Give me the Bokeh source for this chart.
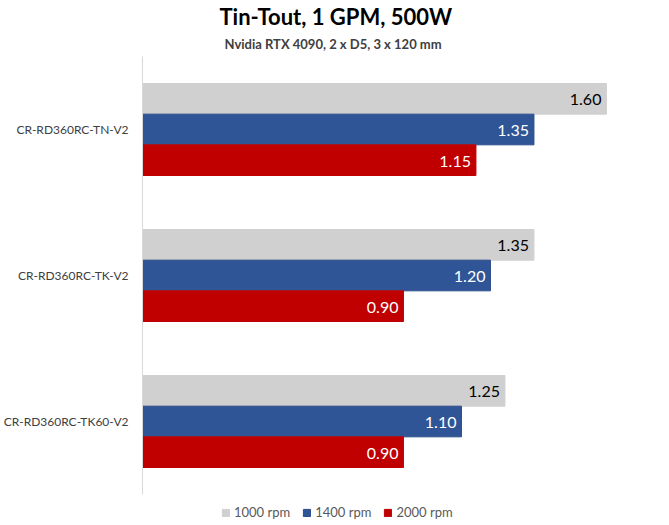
from bokeh.plotting import figure
from bokeh.models import Range1d, Legend, LegendItem, Title, ColumnDataSource, FixedTicker
from bokeh.transform import dodge
from bokeh.core.properties import value
from bokeh.embed import file_html
from bokeh.resources import INLINE

categories = ["CR-RD360RC-TN-V2", "CR-RD360RC-TK-V2", "CR-RD360RC-TK60-V2"]
rpm_1000 = [1.60, 1.35, 1.25]
rpm_1400 = [1.35, 1.20, 1.10]
rpm_2000 = [1.15, 0.90, 0.90]
series_names = ["1000 rpm", "1400 rpm", "2000 rpm"]
title_text = "Tin-Tout, 1 GPM, 500W"
subtitle_text = "Nvidia RTX 4090, 2 x D5, 3 x 120 mm"

colors = ["#D0D0D0", "#2F5597", "#C00000"]
borders = ["#D0D0D0", "#2A4C8A", "#C00000"]
label_colors = ["#000000", "#FFFFFF", "#FFFFFF"]
offsets = [0.21, 0.0, -0.21]
FONT = "Lato"

n = len(categories)
ypos = [n - 1 - i + 0.5 for i in range(n)]
src = ColumnDataSource(dict(cat=categories, y=ypos, s0=rpm_1000, s1=rpm_1400, s2=rpm_2000,
                            l0=["%.2f" % v for v in rpm_1000],
                            l1=["%.2f" % v for v in rpm_1400],
                            l2=["%.2f" % v for v in rpm_2000]))

p = figure(y_range=Range1d(-0.178, n), x_range=Range1d(0, 1.752),
           frame_width=508, frame_height=464, output_backend="svg",
           toolbar_location=None, title=None, x_axis_location=None,
           min_border_left=0, min_border_right=11, min_border_top=0, min_border_bottom=0)

renderers = []
for i, key in enumerate(["s0", "s1", "s2"]):
    r = p.hbar(y=dodge("y", offsets[i]), right=key, left=0, height=0.21,
               source=src, fill_color=colors[i], line_color=borders[i], line_width=1)
    renderers.append(r)
    p.text(x=key, y=dodge("y", offsets[i]), text="l" + str(i), source=src,
           x_offset=-5, y_offset=1, text_align="right", text_baseline="middle",
           text_color=label_colors[i], text_font=value(FONT), text_font_size="16px")

p.xgrid.visible = False
p.ygrid.visible = False
p.outline_line_color = None
yax = p.yaxis[0]
yax.ticker = FixedTicker(ticks=ypos, minor_ticks=[])
yax.major_label_overrides = {y: c for y, c in zip(ypos, categories)}
yax.bounds = (0, n)
yax.axis_line_color = "#D9D9D9"
yax.major_tick_line_color = None
yax.minor_tick_line_color = None
yax.major_label_text_font = FONT
yax.major_label_text_font_size = "12px"
yax.major_label_text_color = "#404040"
yax.major_label_standoff = 8

legend = Legend(items=[LegendItem(label=series_names[i], renderers=[renderers[i]]) for i in range(3)],
                orientation="horizontal", location=(79, 0), glyph_width=9, glyph_height=9,
                label_text_font=FONT, label_text_font_size="13px", label_text_color="#595959",
                border_line_color=None, background_fill_alpha=0, spacing=12, label_standoff=4,
                padding=0, margin=0)
p.add_layout(legend, "center")

p.add_layout(Title(text=subtitle_text, align="left", text_font=FONT, text_font_size="13px",
                   text_font_style="bold", text_color="#404040", offset=82, standoff=9), "above")
p.add_layout(Title(text=title_text, align="left", text_font=FONT, text_font_size="22px",
                   text_font_style="bold", text_color="#000000", offset=77, standoff=0), "above")

open("out.html", "w").write(file_html(p, INLINE))
